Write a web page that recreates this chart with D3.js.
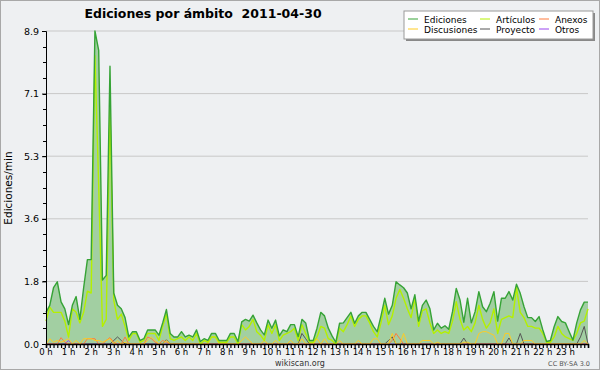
<!DOCTYPE html>
<html>
<head>
<meta charset="utf-8">
<script src="https://cdn.jsdelivr.net/npm/d3@7"></script>
<style>
  body { margin: 0; background: #eef0f2; }
  svg { display: block; font-family: "DejaVu Sans", sans-serif; }
</style>
</head>
<body>
<div id="chart"></div>
<script>
// 10 minute steps, 0h .. 24h
var hourLabels = d3.range(0, 24).map(function(h){ return h + " h"; });
var yTicks = [0.0, 1.78, 3.56, 5.34, 7.12, 8.9];

var ediciones = [0.9,1.1,1.6,1.77,1.2,1.0,0.55,1.1,1.35,0.7,1.6,2.4,2.4,8.9,8.35,1.82,1.95,7.9,1.45,1.1,
  1.0,0.75,0.2,0.35,0.35,0.1,0.15,0.4,0.4,0.4,0.25,0.6,0.98,0.3,0.2,0.2,0.35,0.2,0.25,0.2,
  0.4,0.07,0.15,0.1,0.3,0.3,0.1,0.1,0.1,0.3,0.3,0.07,0.63,0.7,0.65,0.82,0.6,0.4,0.26,0.68,
  0.45,0.68,0.23,0.4,0.35,0.55,0.55,0.21,0.7,0.6,0.1,0.1,0.45,0.9,0.8,0.45,0.23,0.05,0.59,0.6,
  0.75,0.9,0.59,0.8,0.9,0.9,0.7,0.5,0.35,0.8,1.3,0.85,1.1,1.77,1.68,1.6,1.45,1.0,1.4,0.65,
  1.1,1.25,1.0,0.4,0.59,0.45,0.52,0.42,0.92,1.58,1.25,0.62,1.3,0.6,0.92,1.49,1.06,0.92,1.16,1.49,
  0.65,1.3,1.3,1.49,1.25,1.7,1.44,1.06,0.75,0.75,0.64,0.78,0.4,0.07,0.1,0.49,0.78,0.64,0.6,0.35,
  0.11,0.6,0.97,1.19,1.19];

var articulos = [0.65,1.05,0.9,0.9,0.9,0.65,0.2,1.0,0.9,0.6,0.9,1.5,1.45,8.2,4.5,0.5,0.7,6.7,1.25,0.7,
  0.85,0.5,0.1,0.3,0.3,0.05,0.1,0.3,0.3,0.3,0.1,0.5,0.85,0.15,0.1,0.15,0.2,0.1,0.2,0.1,
  0.3,0.0,0.1,0.05,0.2,0.2,0.05,0.05,0.05,0.2,0.2,0.0,0.55,0.4,0.5,0.7,0.35,0.25,0.1,0.55,
  0.3,0.55,0.1,0.25,0.3,0.35,0.45,0.1,0.55,0.3,0.05,0.05,0.2,0.5,0.45,0.15,0.1,0.0,0.45,0.35,
  0.55,0.8,0.5,0.7,0.8,0.8,0.6,0.35,0.2,0.6,1.1,0.55,0.8,1.3,1.55,1.3,1.0,0.75,1.3,0.5,
  0.95,1.0,0.6,0.3,0.4,0.3,0.35,0.3,0.65,1.2,0.7,0.4,0.5,0.35,0.6,1.1,0.7,0.45,0.6,1.0,
  0.3,0.7,0.75,0.8,0.75,1.6,0.9,0.75,0.5,0.5,0.45,0.45,0.3,0.05,0.05,0.2,0.5,0.3,0.2,0.15,
  0.1,0.3,0.6,0.65,1.0];

var discusiones = [0,0.15,0.05,0.1,0.05,0.1,0.15,0,0.1,0,0.15,0.15,0.15,0.1,0.1,0.05,0.1,0.15,0,0.1,
  0,0.05,0,0,0,0,0,0.1,0.2,0.1,0,0,0.1,0,0,0,0,0,0,0,
  0,0,0,0,0.2,0.2,0,0,0,0,0,0,0.1,0.2,0.1,0,0,0,0.1,0,
  0,0.1,0,0,0,0.1,0,0,0.15,0,0,0,0.15,0,0.15,0,0,0,0.1,0,
  0,0,0,0.1,0,0,0,0.15,0.15,0,0,0,0.3,0,0,0.3,0,0,0,0,
  0.1,0.1,0.1,0,0.05,0,0,0,0,0,0,0.05,0.05,0,0,0.3,0.35,0.35,0.3,0.25,
  0,0,0.3,0.3,0,0,0,0.1,0.1,0.1,0,0,0,0,0,0,0,0,0,0,
  0,0,0,0.1,0];

var anexos = [0,0,0,0,0.18,0.05,0,0,0,0,0,0.15,0.15,0.15,0,0,0.1,0.18,0.05,0,
  0,0.2,0,0,0,0,0,0.2,0.15,0.05,0,0.1,0.05,0,0,0,0,0,0,0,
  0,0,0,0,0,0,0,0,0,0,0,0,0,0,0,0,0,0,0,0,
  0,0,0,0,0,0,0,0,0,0,0,0,0,0,0,0,0,0,0,0,
  0,0,0,0,0,0,0,0,0,0,0,0,0.1,0.3,0.15,0,0,0,0,0,
  0,0,0,0,0,0,0,0,0,0,0,0,0,0,0,0,0,0,0,0,
  0,0,0,0,0,0,0,0,0,0,0,0,0,0,0,0,0,0,0,0,
  0,0,0,0,0];

var proyecto = [0,0,0,0,0,0,0,0,0,0,0,0,0,0,0,0,0,0,0.1,0.2,
  0.1,0,0,0,0,0,0,0,0,0,0,0,0.12,0,0,0,0,0,0,0,
  0,0,0,0,0,0,0,0,0,0,0,0,0,0,0,0,0,0,0,0,
  0,0,0,0,0,0,0,0,0.3,0.15,0,0,0,0,0,0,0,0,0,0,
  0,0,0,0,0,0,0,0,0,0,0,0.1,0.2,0,0,0,0,0,0,0,
  0,0,0,0,0,0,0,0,0,0,0,0.17,0,0,0,0,0,0,0,0,
  0,0,0,0.17,0,0,0.3,0,0,0,0,0,0,0,0,0,0,0,0,0,
  0,0,0.2,0.5,0];

var otros = [0,0,0,0,0,0,0.1,0,0,0,0,0,0,0,0,0,0,0,0,0,
  0,0,0,0,0,0,0,0,0,0,0,0,0,0,0,0,0,0,0,0,
  0,0,0,0,0,0,0,0,0,0,0,0,0,0,0,0,0,0,0,0,
  0,0,0,0,0,0,0,0,0,0,0,0,0,0,0,0,0,0,0,0,
  0,0,0,0,0,0,0,0,0,0,0,0,0,0,0,0,0,0,0,0,
  0,0,0,0,0,0,0,0,0,0,0,0,0,0,0,0,0,0,0,0,
  0,0,0,0,0,0,0,0,0,0,0,0,0,0,0,0,0,0,0,0,
  0,0,0,0,0];

var seriesNames = ["Ediciones", "Artículos", "Anexos", "Discusiones", "Proyecto", "Otros"];
var seriesColors = ["#36a336", "#b4f000", "#ff7a3c", "#ffcc22", "#555555", "#9944ee"];

var width = 600, height = 370;
var plot = {left: 46, right: 588, top: 31, bottom: 344};

var svg = d3.select("#chart").append("svg")
  .attr("width", width)
  .attr("height", height);

svg.append("rect")
  .attr("x", 0.5).attr("y", 0.5)
  .attr("width", width - 1).attr("height", height - 1)
  .attr("fill", "#eef0f2")
  .attr("stroke", "#a8a8a8");

var x = d3.scaleLinear().domain([0, 144]).range([plot.left, plot.right]);
var y = d3.scaleLinear().domain([0, 8.9]).range([plot.bottom, plot.top]);

// grid
svg.append("g").selectAll("line")
  .data(yTicks.slice(1))
  .enter().append("line")
  .attr("x1", plot.left).attr("x2", plot.right)
  .attr("y1", function(d){ return y(d); }).attr("y2", function(d){ return y(d); })
  .attr("stroke", "#c8c8c8");

// area under total
var area = d3.area()
  .x(function(d, i){ return x(i); })
  .y0(y(0))
  .y1(function(d){ return y(d); });

svg.append("path")
  .datum(ediciones)
  .attr("d", area)
  .attr("fill", "#a2cfa2");

var line = d3.line()
  .x(function(d, i){ return x(i); })
  .y(function(d){ return y(d); });

function drawSeries(data, color, w){
  svg.append("path")
    .datum(data)
    .attr("d", line)
    .attr("fill", "none")
    .attr("stroke", color)
    .attr("stroke-width", w)
    .attr("stroke-linejoin", "round");
}

drawSeries(otros, seriesColors[5], 1);
drawSeries(proyecto, seriesColors[4], 1);
drawSeries(anexos, seriesColors[2], 1);
drawSeries(discusiones, seriesColors[3], 1);
drawSeries(articulos, seriesColors[1], 1.4);
drawSeries(ediciones, seriesColors[0], 1.4);

// y axis
var yAxis = d3.axisLeft(y)
  .tickValues(yTicks)
  .tickFormat(d3.format(".1f"))
  .tickSize(4);
var gy = svg.append("g")
  .attr("transform", "translate(" + plot.left + ",0)")
  .call(yAxis);
gy.select(".domain").attr("stroke", "#000");
gy.selectAll("text").attr("font-size", 9.5).attr("font-family", "DejaVu Sans").attr("fill", "#000");

// minor y ticks
var minorY = d3.range(0, 21).map(function(i){ return i * 8.9 / 20; });
svg.append("g").selectAll("line")
  .data(minorY)
  .enter().append("line")
  .attr("x1", plot.left - 3).attr("x2", plot.left)
  .attr("y1", function(d){ return Math.round(y(d)) + 0.5; })
  .attr("y2", function(d){ return Math.round(y(d)) + 0.5; })
  .attr("stroke", "#000");

// x axis
var xAxis = d3.axisBottom(x)
  .tickValues(d3.range(0, 145))
  .tickFormat("")
  .tickSize(4);
var gx = svg.append("g")
  .attr("transform", "translate(0," + plot.bottom + ")")
  .call(xAxis);
gx.select(".domain").attr("stroke", "#000").attr("stroke-width", 1.5);
gx.selectAll(".tick line").attr("stroke-width", 1.2);

svg.append("g").selectAll("text")
  .data(hourLabels)
  .enter().append("text")
  .attr("x", function(d, i){ return x(i * 6); })
  .attr("y", 355)
  .attr("text-anchor", "middle")
  .attr("font-family", "DejaVu Sans Condensed, DejaVu Sans")
  .attr("font-size", 9.5)
  .attr("fill", "#000")
  .text(function(d){ return d; });

// axis label
svg.append("text")
  .attr("transform", "translate(12,188) rotate(-90)")
  .attr("text-anchor", "middle")
  .attr("font-size", 10.5)
  .text("Ediciones/min");

// title
svg.append("text")
  .attr("x", 203)
  .attr("y", 18)
  .attr("text-anchor", "middle")
  .attr("font-size", 12.5)
  .attr("font-weight", "bold")
  .style("white-space", "pre")
  .text("Ediciones por ámbito  2011-04-30");

// legend
var lg = svg.append("g");
lg.append("rect").attr("x", 406).attr("y", 13).attr("width", 189).attr("height", 28).attr("fill", "#888");
lg.append("rect").attr("x", 404).attr("y", 11).attr("width", 189).attr("height", 28)
  .attr("fill", "#fff").attr("stroke", "#999");
var legCols = [408, 480, 539];
var legRows = [19, 29];
var legOrder = [0, 1, 2, 3, 4, 5];
legOrder.forEach(function(k, j){
  var cx = legCols[j % 3], cy = legRows[Math.floor(j / 3)];
  lg.append("line").attr("x1", cx).attr("x2", cx + 10)
    .attr("y1", cy).attr("y2", cy)
    .attr("stroke", seriesColors[k]).attr("stroke-width", 1);
  lg.append("text").attr("x", cx + 16).attr("y", cy + 3.5)
    .attr("font-size", 9).text(seriesNames[k]);
});

// footer
svg.append("text").attr("x", 300).attr("y", 366).attr("text-anchor", "middle")
  .attr("font-size", 8).attr("fill", "#333").text("wikiscan.org");
svg.append("text").attr("x", 590).attr("y", 366).attr("text-anchor", "end")
  .attr("font-size", 6.5).attr("fill", "#555").text("CC BY-SA 3.0");
</script>
</body>
</html>
